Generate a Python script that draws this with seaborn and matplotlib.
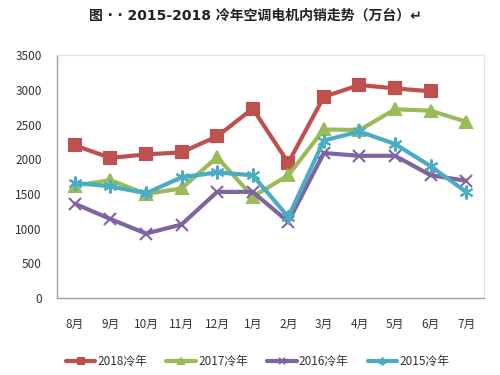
import numpy as np
import pandas as pd
import matplotlib
matplotlib.use("Agg")
import matplotlib.pyplot as plt
import seaborn as sns

months = ["8月", "9月", "10月", "11月", "12月", "1月", "2月", "3月", "4月", "5月", "6月", "7月"]
s2018 = [2200, 2020, 2070, 2100, 2330, 2730, 1950, 2900, 3070, 3020, 2980, np.nan]
s2017 = [1620, 1700, 1500, 1580, 2030, 1460, 1770, 2430, 2420, 2720, 2700, 2540]
s2016 = [1360, 1140, 930, 1060, 1530, 1530, 1100, 2090, 2050, 2050, 1770, 1690]
s2015 = [1660, 1610, 1510, 1740, 1810, 1770, 1170, 2270, 2400, 2220, 1900, 1530]
series_names = ["2018冷年", "2017冷年", "2016冷年", "2015冷年"]
yticks = [0, 500, 1000, 1500, 2000, 2500, 3000, 3500]
title = "图 ‧ ‧ 2015-2018 冷年空调电机内销走势（万台）↵"

sns.set_style("white")
plt.rcParams['font.family'] = ['Noto Sans CJK SC', 'DejaVu Sans']

rows = []
for name, vals in zip(series_names, [s2018, s2017, s2016, s2015]):
    for i, (m, v) in enumerate(zip(months, vals)):
        rows.append({"month": m, "idx": i, "value": v, "series": name})
df = pd.DataFrame(rows)

colors = ["#C0504D", "#9BBB59", "#8064A2", "#4BACC6"]
markers = ["s", "^", "x", (6, 2, 0)]
msizes = [9, 9, 9, 10]

fig = plt.figure(figsize=(5, 3.75), dpi=100)
ax = fig.add_axes([0.114, 0.205, 0.854, 0.648])

for name, c, mk, ms in zip(series_names, colors, markers, msizes):
    sub = df[df["series"] == name].dropna()
    sns.lineplot(data=sub, x="idx", y="value", ax=ax, color=c, linewidth=3,
                 marker=mk, markersize=ms, markeredgecolor=c, markeredgewidth=1.5,
                 label=name, sort=False)

ax.set_xlim(-0.5, 11.5)
ax.set_ylim(0, 3500)
ax.set_yticks(yticks)
ax.set_yticklabels([str(t) for t in yticks], fontsize=8.5, color="#333333")
ax.set_xticks(range(len(months)))
ax.set_xticklabels(months, fontsize=8.5, color="#333333")
ax.tick_params(axis="x", pad=14, length=0)
ax.tick_params(axis="y", pad=11, length=0)
ax.set_xlabel("")
ax.set_ylabel("")
for sp in ["left", "bottom"]:
    ax.spines[sp].set_color("#a0a0a0")
    ax.spines[sp].set_linewidth(1)
for sp in ["top", "right"]:
    ax.spines[sp].set_color("#e6e6e6")
    ax.spines[sp].set_linewidth(1)

leg = ax.legend(loc="upper center", bbox_to_anchor=(0.47, -0.19), ncol=4, frameon=False,
                fontsize=8.5, handlelength=2.5, columnspacing=1.6, handletextpad=0.2,
                markerscale=0.55)
for t in leg.get_texts():
    t.set_color("#333333")

fig.text(0.51, 0.958, title, ha="center", va="center", fontsize=10, fontweight="bold",
         color="#222222", family=['DejaVu Sans', 'Noto Sans CJK SC'])

fig.savefig("out.png", dpi=100)
